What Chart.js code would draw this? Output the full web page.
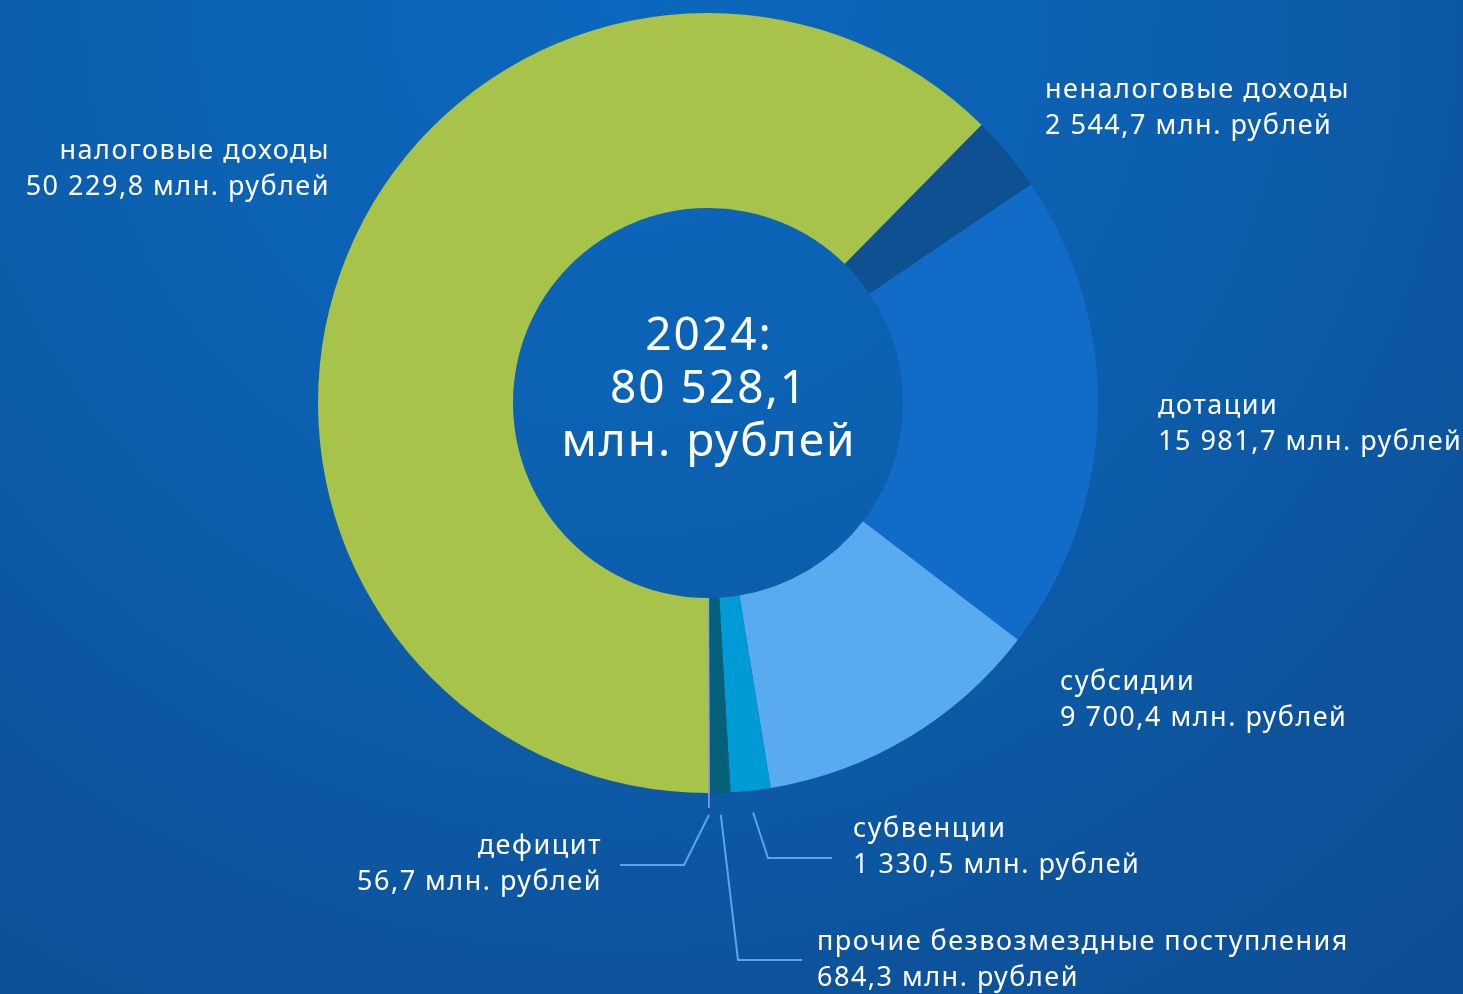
<!DOCTYPE html>
<html>
<head>
<meta charset="utf-8">
<script src="https://cdn.jsdelivr.net/npm/chart.js@4.4.1/dist/chart.umd.min.js"></script>
<style>
  html, body { margin: 0; padding: 0; }
  body {
    width: 1463px; height: 994px; overflow: hidden;
    background: radial-gradient(circle at 620px 0px, #0b68be 0px, #0c5fae 580px, #0d539c 1000px, #0d4e93 1350px);
  }
  #wrap { position: relative; width: 1463px; height: 994px; }
</style>
</head>
<body>
<div id="wrap"><canvas id="budget"></canvas></div>
<script>
// доходы бюджета 2024, млн. рублей
const categories = [
  'налоговые доходы',
  'неналоговые доходы',
  'дотации',
  'субсидии',
  'субвенции',
  'прочие безвозмездные поступления',
  'дефицит'
];
const values = [50229.8, 2544.7, 15981.7, 9700.4, 1330.5, 684.3, 56.7];
const valueLabels = ['50 229,8', '2 544,7', '15 981,7', '9 700,4', '1 330,5', '684,3', '56,7'];
const centerLines = ['2024:', '80 528,1', 'млн. рублей'];
const unit = 'млн. рублей';

const colors = ['#a8c34a', '#0d5193', '#106cc6', '#5aaaf0', '#009ad6', '#07607a', '#8ea5d8'];

// label placement (x, y of first line centre, alignment, optional leader elbow/end)
const labelLayout = [
  { x: 330, y: 151, align: 'right' },
  { x: 1045, y: 90, align: 'left' },
  { x: 1158, y: 406, align: 'left' },
  { x: 1060, y: 682, align: 'left' },
  { x: 853, y: 829, align: 'left', elbow: [768, 858], end: [832, 858] },
  { x: 817, y: 942, align: 'left', elbow: [738, 960], end: [802, 960] },
  { x: 602, y: 846, align: 'right', elbow: [684, 865], end: [620, 865] }
];

const FONT = '"Noto Sans", sans-serif';

const labelsPlugin = {
  id: 'labels',
  afterDraw(chart) {
    const ctx = chart.ctx;
    const meta = chart.getDatasetMeta(0);
    ctx.save();
    ctx.fillStyle = '#ffffff';
    ctx.textBaseline = 'middle';

    // thin deficit slice marker, drawn past the ring
    const last = meta.data[meta.data.length - 1].getProps(['x', 'y', 'startAngle', 'endAngle', 'innerRadius', 'outerRadius'], true);
    const am = (last.startAngle + last.endAngle) / 2;
    ctx.strokeStyle = '#8ea5d8';
    ctx.lineWidth = 1.5;
    ctx.beginPath();
    ctx.moveTo(last.x + Math.cos(am) * last.innerRadius, last.y + Math.sin(am) * last.innerRadius);
    ctx.lineTo(last.x + Math.cos(am) * (last.outerRadius + 15), last.y + Math.sin(am) * (last.outerRadius + 15));
    ctx.stroke();

    // leaders
    ctx.strokeStyle = '#5aa6ee';
    ctx.lineWidth = 2;
    meta.data.forEach((arc, i) => {
      const l = labelLayout[i];
      if (!l.elbow) return;
      const p = arc.getProps(['x', 'y', 'startAngle', 'endAngle', 'outerRadius'], true);
      const a = (p.startAngle + p.endAngle) / 2;
      const r = p.outerRadius + 22;
      ctx.beginPath();
      ctx.moveTo(p.x + Math.cos(a) * r, p.y + Math.sin(a) * r);
      ctx.lineTo(l.elbow[0], l.elbow[1]);
      ctx.lineTo(l.end[0], l.end[1]);
      ctx.stroke();
    });

    // category labels
    ctx.font = '27px ' + FONT;
    ctx.letterSpacing = '1.5px';
    categories.forEach((c, i) => {
      const l = labelLayout[i];
      ctx.textAlign = l.align;
      ctx.fillText(c, l.x, l.y);
      ctx.fillText(valueLabels[i] + ' ' + unit, l.x, l.y + 36);
    });

    // centre text
    const arc0 = meta.data[0];
    ctx.font = '46px ' + FONT;
    ctx.letterSpacing = '2px';
    ctx.textAlign = 'center';
    centerLines.forEach((t, k) => {
      ctx.fillText(t, arc0.x + 1, arc0.y - 66 + k * 53);
    });
    ctx.restore();
  }
};

new Chart(document.getElementById('budget'), {
  type: 'doughnut',
  data: {
    labels: categories,
    datasets: [{
      data: values,
      backgroundColor: colors,
      borderWidth: 0
    }]
  },
  options: {
    responsive: true,
    maintainAspectRatio: false,
    animation: false,
    rotation: 180,
    cutout: '50%',
    layout: { padding: { left: 318, right: 365, top: 13, bottom: 201 } },
    plugins: {
      legend: { display: false },
      tooltip: { enabled: false }
    }
  },
  plugins: [labelsPlugin]
});
</script>
</body>
</html>
